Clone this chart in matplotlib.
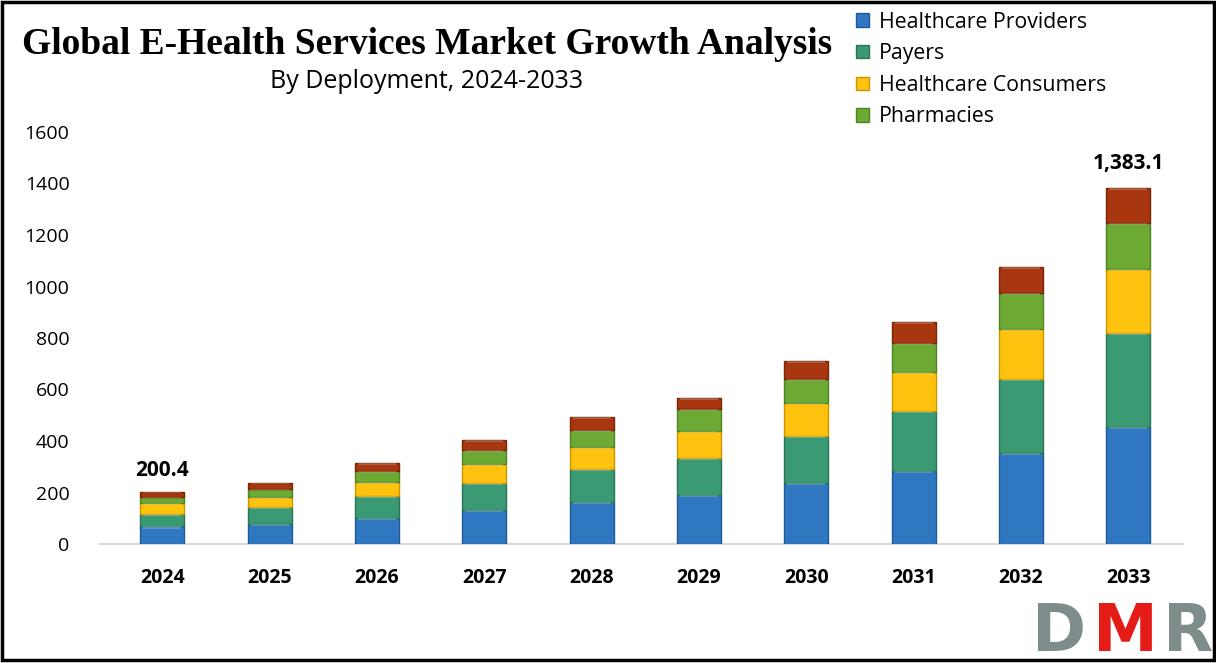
import matplotlib
matplotlib.use("Agg")
import matplotlib.pyplot as plt
import numpy as np

years = ["2024", "2025", "2026", "2027", "2028", "2029", "2030", "2031", "2032", "2033"]
providers = [68.0, 78, 101, 132, 163, 190, 237, 283, 353, 454.3]
payers = [48.7, 66, 85, 105, 128, 144, 183, 233, 287, 365]
consumers = [44.1, 39, 54, 74, 85, 105, 128, 151, 194, 249]
pharmacies = [20.3, 31, 43, 54, 66, 85, 93, 113, 140, 179]
others = [19.3, 23, 31, 39, 50, 43, 70, 82, 101, 135.8]
series_names = ["Healthcare Providers", "Payers", "Healthcare Consumers", "Pharmacies", None]
label_total_first = "200.4"
label_total_last = "1,383.1"
yticks = [0, 200, 400, 600, 800, 1000, 1200, 1400, 1600]

colors = ["#2F77C1", "#3A9A74", "#FFC20E", "#6CAA34", "#A8360E"]
edges = ["#1F5A96", "#2A7557", "#C99600", "#4F8424", "#7A2408"]

fig = plt.figure(figsize=(12.16, 6.63), dpi=100)
ax = fig.add_axes([100/1216, 1-544/663, 1083/1216, 412/663])

x = np.arange(len(years))
width = 0.41
bottom = np.zeros(len(years))
handles = []
for vals, name, c, e in zip([providers, payers, consumers, pharmacies, others],
                            series_names, colors, edges):
    vals = np.array(vals, dtype=float)
    b = ax.bar(x, vals, width, bottom=bottom, color=c, edgecolor=e, linewidth=1.0,
               label=name if name else "_nolegend_", zorder=3)
    # bevel highlight at top of each segment
    hl = np.minimum(vals * 0.18, 8)
    ax.bar(x, hl, width * 0.86, bottom=bottom + vals - hl, color="white", alpha=0.22,
           linewidth=0, zorder=4)
    bottom += vals
    if name:
        handles.append(b)

totals = bottom
ax.text(x[0], totals[0] + 45, label_total_first, ha="center", va="bottom",
        fontsize=15, fontweight="bold", family="Open Sans")
ax.text(x[-1], totals[-1] + 55, label_total_last, ha="center", va="bottom",
        fontsize=15, fontweight="bold", family="Open Sans")

ax.set_xlim(-0.58, 9.51)
ax.set_ylim(0, 1600)
ax.set_yticks(yticks)
ax.set_yticklabels([str(t) for t in yticks], fontsize=14, family="Open Sans")
ax.set_xticks(x)
ax.set_xticklabels(years, fontsize=14, fontweight="bold", family="Open Sans")
ax.tick_params(axis="both", length=0)
ax.tick_params(axis="y", pad=22)
ax.tick_params(axis="x", pad=17)
for s in ["top", "right", "left"]:
    ax.spines[s].set_visible(False)
ax.spines["bottom"].set_color("#D9D9D9")
ax.spines["bottom"].set_linewidth(1.5)

fig.text(427/1216, 1-45/663, "Global E-Health Services Market Growth Analysis",
         ha="center", va="center", fontsize=27, fontweight="bold", family="Liberation Serif")
fig.text(427/1216, 1-82/663, "By Deployment, 2024-2033", ha="center", va="center",
         fontsize=18, family="Open Sans")

leg = fig.legend(handles=handles, labels=series_names[:4], loc="upper left",
                 bbox_to_anchor=(848/1216, 1-3/663), frameon=False,
                 prop={"family": "Open Sans", "size": 15.3}, handlelength=0.6,
                 handleheight=0.6, handletextpad=0.45, labelspacing=0.5,
                 borderaxespad=0)

# DMR logo
fig.text(1032/1216, 1-665/663, "D", color="#7F8C8C", fontsize=47, fontweight="bold",
         family="DejaVu Sans", ha="left", va="bottom")
fig.text(1093/1216, 1-665/663, "M", color="#E41B17", fontsize=47, fontweight="bold",
         family="DejaVu Sans", ha="left", va="bottom")
fig.text(1163/1216, 1-665/663, "R", color="#7F8C8C", fontsize=47, fontweight="bold",
         family="DejaVu Sans", ha="left", va="bottom")

# figure frame
fig.patches.append(plt.Rectangle((0.002, 0.004), 0.996, 0.993, transform=fig.transFigure,
                                 fill=False, edgecolor="black", linewidth=2.5, zorder=10))

fig.savefig("out.png", dpi=100)
